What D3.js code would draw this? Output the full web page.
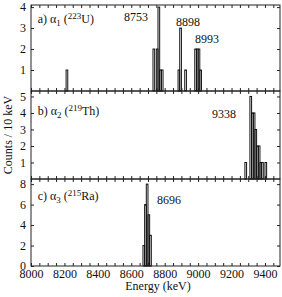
<!DOCTYPE html>
<meta charset="utf-8">
<style>
body { margin: 0; background: #fff; }
svg { font-family: "Liberation Serif", "DejaVu Serif", serif; }
.axis path { display: none; }
.axis line { stroke: #222; }
.axis text { font-size: 12px; fill: #111; font-family: "Liberation Serif", serif; }
.frame { fill: none; stroke: #222; stroke-width: 1; }
.bar { fill: none; stroke: #111; stroke-width: 1; }
.lbl { font-size: 12px; fill: #111; }
</style>
<svg width="282" height="297"></svg>
<script src="https://d3js.org/d3.v7.min.js"></script>
<script>

// histogram bins (lower edge, keV) and counts per 10 keV
var binWidth = 10;
var aBins   = [8210, 8730, 8750, 8760, 8770, 8780, 8880, 8890, 8920, 8980, 8990, 9000, 9010];
var aCounts = [1, 2, 2, 4, 1, 1, 1, 3, 1, 2, 2, 2, 1];
var bBins   = [9280, 9310, 9320, 9330, 9340, 9350, 9360, 9370, 9380, 9400];
var bCounts = [1, 5, 4, 4, 3, 2, 2, 1, 1, 1];
var cBins   = [8670, 8680, 8690, 8700, 8710];
var cCounts = [2, 6, 8, 5, 3];

var xTickLabels = [8000, 8200, 8400, 8600, 8800, 9000, 9200, 9400];
var peakA = ["8753", "8898", "8993"];
var peakB = ["9338"];
var peakC = ["8696"];

var svg = d3.select("svg");
var left = 31, right = 280;

var x = d3.scaleLinear().domain([8000, 9490]).range([left, right]);
var minorTicks = d3.range(8000, 9490, 50);

var panels = [
  { bins: aBins, counts: aCounts, top: 5, bottom: 91, ymax: 4.1, yticks: [1, 2, 3, 4],
    name: ["a) α", "1", " (", "223", "U)"], nameY: 3.24,
    peaks: peakA, peakPos: [[8556, 3.35], [8868, 3.1], [8981, 2.29]] },
  { bins: bBins, counts: bCounts, top: 91, bottom: 179, ymax: 5.33, yticks: [1, 2, 3, 4, 5],
    name: ["b) α", "2", " (", "219", "Th)"], nameY: 3.9,
    peaks: peakB, peakPos: [[9083, 3.67]] },
  { bins: cBins, counts: cCounts, top: 179, bottom: 266, ymax: 8.5, yticks: [0, 2, 4, 6, 8],
    name: ["c) α", "3", " (", "215", "Ra)"], nameY: 6.4,
    peaks: peakC, peakPos: [[8754, 6.05]] }
];

panels.forEach(function(p, i) {
  var y = d3.scaleLinear().domain([0, p.ymax]).range([p.bottom, p.top]);
  var g = svg.append("g");

  // bars
  g.selectAll(".bar")
    .data(p.bins.map(function(b, j) { return { e: b, c: p.counts[j] }; }))
    .enter().append("rect")
      .attr("class", "bar")
      .attr("x", function(d) { return x(d.e); })
      .attr("y", function(d) { return y(d.c); })
      .attr("width", function(d) { return x(d.e + binWidth) - x(d.e); })
      .attr("height", function(d) { return y(0) - y(d.c); });

  // axes, ticks inward
  g.append("g").attr("class", "axis")
    .attr("transform", "translate(" + left + ",0)")
    .call(d3.axisLeft(y).tickValues(p.yticks).tickSize(-3).tickPadding(5).tickFormat(d3.format("d")));
  g.append("g").attr("class", "axis")
    .attr("transform", "translate(" + right + ",0)")
    .call(d3.axisRight(y).tickValues(p.yticks).tickSize(-3).tickFormat(""));
  g.append("g").attr("class", "axis")
    .attr("transform", "translate(0," + p.top + ")")
    .call(d3.axisTop(x).tickValues(minorTicks).tickSize(-3).tickFormat(""));
  g.append("g").attr("class", "axis")
    .attr("transform", "translate(0," + p.bottom + ")")
    .call(d3.axisBottom(x).tickValues(minorTicks).tickSize(-3).tickFormat(""));

  g.append("rect").attr("class", "frame")
    .attr("x", left).attr("y", p.top)
    .attr("width", right - left).attr("height", p.bottom - p.top);

  // panel name
  var t = g.append("text").attr("class", "lbl")
    .attr("x", x(8040)).attr("y", y(p.nameY));
  t.append("tspan").text(p.name[0]);
  t.append("tspan").attr("font-size", "9px").attr("dy", 3).text(p.name[1]);
  t.append("tspan").attr("dy", -3).text(p.name[2]);
  t.append("tspan").attr("font-size", "9px").attr("dy", -4).text(p.name[3]);
  t.append("tspan").attr("dy", 4).text(p.name[4]);

  // peak energies
  p.peaks.forEach(function(s, j) {
    g.append("text").attr("class", "lbl")
      .attr("x", x(p.peakPos[j][0])).attr("y", y(p.peakPos[j][1]))
      .text(s);
  });

  if (i === 2) {
    g.append("g").attr("class", "axis")
      .attr("transform", "translate(0," + p.bottom + ")")
      .call(d3.axisBottom(x).tickValues(xTickLabels).tickSize(0).tickPadding(3).tickFormat(d3.format("d")));
  }
});

svg.append("text").attr("class", "lbl")
  .attr("x", 158).attr("y", 290)
  .attr("text-anchor", "middle")
  .text("Energy (keV)");

svg.append("text").attr("class", "lbl")
  .attr("transform", "translate(12,135) rotate(-90)")
  .attr("text-anchor", "middle")
  .text("Counts / 10 keV");

</script>
